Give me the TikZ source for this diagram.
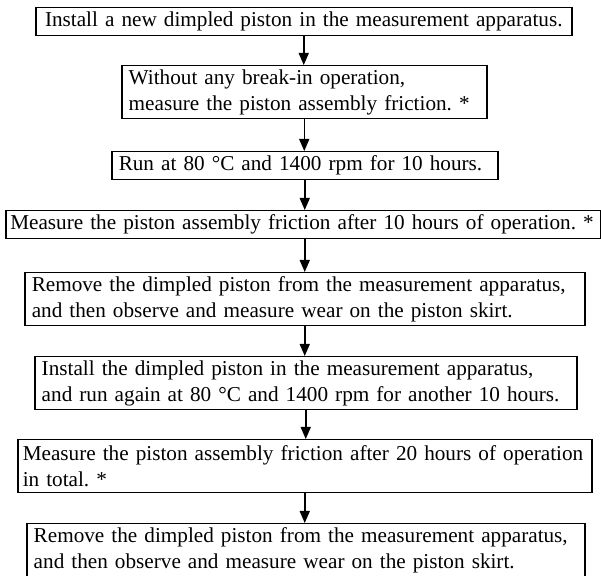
\documentclass[tikz,border=0pt]{standalone}
\usepackage{fontspec}
\setmainfont{Liberation Serif}
\usepackage{tikz}
\usetikzlibrary{arrows.meta}
\frenchspacing

\begin{document}
\begin{tikzpicture}[x=0.5pt, y=-0.5pt, line width=0.75pt,
  >={Triangle[length=6pt,width=5pt]},
  every node/.style={font=\fontsize{10.6}{13}\selectfont},
  stepbox/.style={draw, anchor=north west, align=left, inner xsep=3.5pt, inner ysep=0pt},
  onebox/.style={stepbox, minimum height=14pt},
  twobox/.style={stepbox, minimum height=26.5pt}]
\useasboundingbox (0,0) rectangle (601,576);
\node[onebox, align=center, text width=261pt] (inst) at (35,7) {Install a new dimpled piston in the measurement apparatus.};
\node[twobox, text width=175.5pt] (fric0) at (121,65) {Without any break-in operation,\\ measure the piston assembly friction. *};
\draw[->] (inst.south) -- (inst.south |- fric0.north);
\node[onebox, text width=186pt] (run) at (111,151) {Run at 80 °C and 1400 rpm for 10 hours.};
\draw[->] (fric0.south) -- (fric0.south |- run.north);
\node[onebox, inner xsep=2.25pt, text width=293pt] (fric10) at (5,210) {Measure the piston assembly friction after 10 hours of operation. *};
\draw[->] (run.south) -- (run.south |- fric10.north);
\node[twobox, text width=273pt] (rem1) at (24,272) {Remove the dimpled piston from the measurement apparatus,\\ and then observe and measure wear on the piston skirt.};
\draw[->] (fric10.south -| run.south) -- (run.south |- rem1.north);
\node[twobox, text width=264pt] (rerun) at (34,356) {Install the dimpled piston in the measurement apparatus,\\ and run again at 80 °C and 1400 rpm for another 10 hours.};
\draw[->] (rem1.south) -- (rem1.south |- rerun.north);
\node[twobox, inner xsep=2.5pt, text width=282pt] (fric20) at (17,439) {Measure the piston assembly friction after 20 hours of operation\\ in total. *};
\draw[->] (rerun.south) -- (rerun.south |- fric20.north);
\node[twobox, text width=272pt] (rem2) at (26,523) {Remove the dimpled piston from the measurement apparatus,\\ and then observe and measure wear on the piston skirt.};
\draw[->] (fric20.south) -- (fric20.south |- rem2.north);
\end{tikzpicture}
\end{document}
